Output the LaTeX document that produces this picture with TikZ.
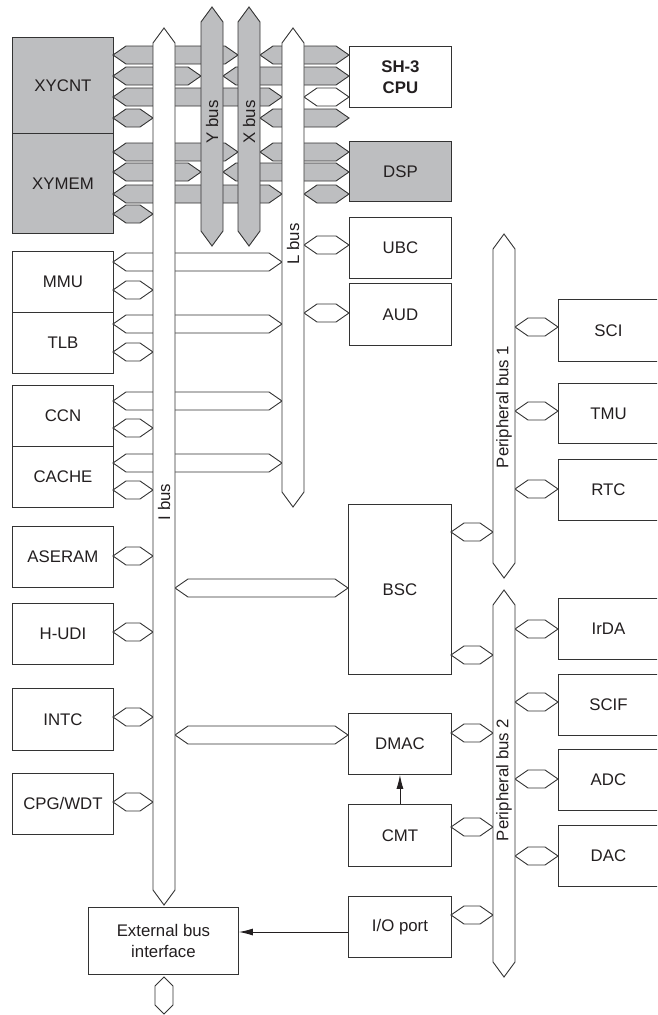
\documentclass[tikz,border=0pt]{standalone}
\usepackage{fontspec}
\setmainfont{Liberation Sans}
\usetikzlibrary{arrows.meta}
\definecolor{busgray}{HTML}{BDBEC0}
\definecolor{ink}{HTML}{231F20}
\definecolor{edge}{HTML}{333333}
\tikzset{
  bline/.style={draw=edge, line width=0.9pt, line join=miter},
  blk/.style={draw=edge, line width=0.9pt, fill=white, inner sep=0pt, text=ink,
    anchor=north west, font=\fontsize{16.8}{21}\selectfont, align=center},
  lbl/.style={text=ink, inner sep=0pt, font=\fontsize{16.8}{21}\selectfont, rotate=90},
  arr/.style={draw=ink, line width=0.9pt, -{Latex[length=14pt,width=7pt]}}
}
% horizontal double-headed bus arrow: [fill]{x1}{x2}{y}
\newcommand{\hx}[4][white]{\draw[bline,fill=#1] (#2,#4) -- (#2+13,#4-9) -- (#3-13,#4-9) -- (#3,#4) -- (#3-13,#4+9) -- (#2+13,#4+9) -- cycle;}
% vertical bus: [fill]{x}{ytop}{ybottom}
\newcommand{\vx}[4][white]{\draw[bline,fill=#1] (#2,#3) -- (#2+11,#3+15) -- (#2+11,#4-15) -- (#2,#4) -- (#2-11,#4-15) -- (#2-11,#3+15) -- cycle;}
\begin{document}
\begin{tikzpicture}[x=1pt,y=-1pt]
\useasboundingbox (0,0) rectangle (657,1015);
\clip (0,0) rectangle (657,1015);
\fill[white] (0,0) rectangle (657,1015);

% ---- left column boxes
\node[blk,fill=busgray,minimum width=101,minimum height=96] (xycnt) at (12,37) {XYCNT};
\node[blk,fill=busgray,minimum width=101,minimum height=100] (xymem) at (12,133) {XYMEM};
\node[blk,minimum width=101,minimum height=61] (mmu) at (12,251) {MMU};
\node[blk,minimum width=101,minimum height=61] (tlb) at (12,312) {TLB};
\node[blk,minimum width=101,minimum height=61] (ccn) at (12,385) {CCN};
\node[blk,minimum width=101,minimum height=61] (cache) at (12,446) {CACHE};
\node[blk,minimum width=101,minimum height=61] (aseram) at (12,526) {ASERAM};
\node[blk,minimum width=101,minimum height=61] (hudi) at (12,603) {H-UDI};
\node[blk,minimum width=101,minimum height=62] (intc) at (12,688) {INTC};
\node[blk,minimum width=101,minimum height=61] (cpg) at (12,773) {CPG/WDT};
\node[blk,minimum width=150,minimum height=67] (ebi) at (88,907) {External bus\\interface};

% ---- middle column boxes
\node[blk,minimum width=102,minimum height=61,font=\fontsize{16.8}{21}\selectfont\bfseries] (cpu) at (349,46) {SH-3\\CPU};
\node[blk,fill=busgray,minimum width=102,minimum height=60] (dsp) at (349,141) {DSP};
\node[blk,minimum width=102,minimum height=61] (ubc) at (349,217) {UBC};
\node[blk,minimum width=102,minimum height=62] (aud) at (349,283) {AUD};
\node[blk,minimum width=103,minimum height=170] (bsc) at (348,504) {BSC};
\node[blk,minimum width=103,minimum height=61] (dmac) at (348,713) {DMAC};
\node[blk,minimum width=103,minimum height=62] (cmt) at (348,804) {CMT};
\node[blk,minimum width=103,minimum height=61] (io) at (348,896) {I/O port};

% ---- right column boxes (cut off by the right margin)
\node[blk,minimum width=100,minimum height=62] (sci) at (558,299) {SCI};
\node[blk,minimum width=100,minimum height=60] (tmu) at (558,383) {TMU};
\node[blk,minimum width=100,minimum height=61] (rtc) at (558,459) {RTC};
\node[blk,minimum width=100,minimum height=61] (irda) at (558,598) {IrDA};
\node[blk,minimum width=100,minimum height=61] (scif) at (558,674) {SCIF};
\node[blk,minimum width=100,minimum height=61] (adc) at (558,749) {ADC};
\node[blk,minimum width=100,minimum height=61] (dac) at (558,825) {DAC};

% ---- horizontal bus connections, XY area
\hx[busgray]{113}{238}{55}   \hx[busgray]{260}{349}{55}
\hx[busgray]{113}{201}{76}   \hx[busgray]{223}{349}{76}
\hx[busgray]{113}{282}{97}   \hx{304}{349}{97}
\hx[busgray]{113}{153}{118}  \hx[busgray]{260}{349}{118}
\hx[busgray]{113}{238}{152}  \hx[busgray]{260}{349}{152}
\hx[busgray]{113}{201}{172}  \hx[busgray]{223}{349}{172}
\hx[busgray]{113}{282}{194}  \hx[busgray]{304}{349}{194}
\hx[busgray]{113}{153}{214}

% ---- left modules to I bus / L bus
\hx{113}{282}{262} \hx{113}{153}{290}
\hx{113}{282}{324} \hx{113}{153}{352}
\hx{113}{282}{401} \hx{113}{153}{428}
\hx{113}{282}{463} \hx{113}{153}{490}
\hx{113}{153}{556}
\hx{113}{153}{632}
\hx{113}{153}{717}
\hx{113}{153}{802}
% I bus to BSC / DMAC
\hx{175}{348}{588}
\hx{175}{348}{735}
% L bus to UBC / AUD
\hx{304}{349}{245}
\hx{304}{349}{313}
% peripheral bus 1
\hx{515}{558}{327} \hx{515}{558}{411} \hx{515}{558}{489}
\hx{451}{493}{532}
% peripheral bus 2
\hx{515}{558}{629} \hx{515}{558}{702} \hx{515}{558}{779} \hx{515}{558}{856}
\hx{451}{493}{655} \hx{451}{493}{733} \hx{451}{493}{827} \hx{451}{493}{915}

% ---- vertical buses
\vx{164}{28}{905}
\vx[busgray]{212}{7}{246}
\vx[busgray]{249}{7}{246}
\vx{293}{28}{507}
\vx{504}{234}{578}
\vx{504}{590}{977}
% external bus stub below the interface
\draw[bline,fill=white] (164,977) -- (173,986) -- (173,1005) -- (164,1014) -- (155,1005) -- (155,986) -- cycle;

% ---- bus labels
\node[lbl] (ilbl) at (164,502) {I bus};
\node[lbl] (ylbl) at (212,122) {Y bus};
\node[lbl] (xlbl) at (249,122) {X bus};
\node[lbl] (llbl) at (293,244) {L bus};
\node[lbl] (p1lbl) at (504,407) {Peripheral bus 1};
\node[lbl] (p2lbl) at (504,780) {Peripheral bus 2};

% ---- plain arrows
\draw[arr] (cmt.north) -- (dmac.south);
\draw[arr] (io.west |- 0,932) -- (ebi.east |- 0,932);
\end{tikzpicture}
\end{document}
